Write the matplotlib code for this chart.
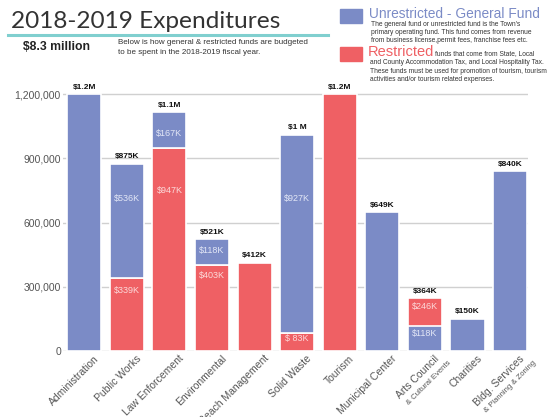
import matplotlib
matplotlib.use("Agg")
import matplotlib.pyplot as plt
import matplotlib.transforms as mtransforms
from matplotlib.lines import Line2D
from matplotlib.patches import Rectangle

# === DATA ===
categories = ["Administration", "Public Works", "Law Enforcement", "Environmental",
              "Beach Management", "Solid Waste", "Tourism", "Municipal Center",
              "Arts Council", "Charities", "Bldg. Services"]
sub_labels = {"Arts Council": "& Cultural Events", "Bldg. Services": "& Planning & Zoning"}
unrestricted = [1200000, 536000, 167000, 118000, 0, 927000, 0, 649000, 118000, 150000, 840000]
restricted = [0, 339000, 947000, 403000, 412000, 83000, 1200000, 0, 246000, 0, 0]
total_labels = ["$1.2M", "$875K", "$1.1M", "$521K", "$412K", "$1 M", "$1.2M",
                "$649K", "$364K", "$150K", "$840K"]
unrestricted_labels = [None, "$536K", "$167K", "$118K", None, "$927K", None, None, "$118K", None, None]
restricted_labels = [None, "$339K", "$947K", "$403K", None, "$ 83K", None, None, "$246K", None, None]
y_ticks = [0, 300000, 600000, 900000, 1200000]

# === LAYOUT / STYLE ===
W, H = 557, 417
BLUE = "#7b8bc6"
RED = "#ef6064"
TEAL = "#80cfcf"
GREY = "#555555"
FONT = "Liberation Sans"
blue_on_red = [True, True, True, True, True, True, True, True, False, True, True]  # arts: overlaid
drop_u = [None, 35, 21, 11, None, 64, None, None, 8, None, None]  # px below segment top
drop_r = [None, 12, 42, 11, None, 5, None, None, 8.5, None, None]


def fx(x):
    return x / W


def fy(y):
    return 1 - y / H


fig = plt.figure(figsize=(W / 100, H / 100), dpi=100)
fig.patch.set_facecolor("white")

# axes: 0 at y=351px, 1.2M at y=94px
px_per_unit = 257 / 1.2e6
ymax = 1.25e6
ax_top = 351 - ymax * px_per_unit
ax = fig.add_axes([fx(63), fy(351), fx(528) - fx(63), (351 - ax_top) / H])
ax.set_xlim(-0.5, 10.42)
ax.set_ylim(0, ymax)

x = list(range(len(categories)))
bw = 0.8
r_idx = [i for i in x if restricted[i] > 0]
ax.bar(r_idx, [restricted[i] for i in r_idx], width=bw, color=RED,
       edgecolor="white", linewidth=1.2, zorder=2)
u_idx = [i for i in x if unrestricted[i] > 0]
u_bottom = [restricted[i] if blue_on_red[i] else 0 for i in u_idx]
ax.bar(u_idx, [unrestricted[i] for i in u_idx], bottom=u_bottom, width=bw, color=BLUE,
       edgecolor="white", linewidth=1.2, zorder=3)

for i in x:
    u_bot = restricted[i] if blue_on_red[i] else 0
    u_top = u_bot + unrestricted[i]
    top = max(u_top, restricted[i])
    ax.annotate(total_labels[i], xy=(i, top), xytext=(0, 2.5), textcoords="offset points",
                ha="center", va="bottom", fontsize=6, fontweight="bold", color="#111111",
                family=FONT, zorder=5)
    if unrestricted_labels[i]:
        ax.annotate(unrestricted_labels[i], xy=(i, u_top), xytext=(0, -drop_u[i] * 0.72),
                    textcoords="offset points", ha="center", va="center", fontsize=6.5,
                    color="#e3e7f6", family=FONT, zorder=5)
    if restricted_labels[i]:
        ax.annotate(restricted_labels[i], xy=(i, restricted[i]), xytext=(0, -drop_r[i] * 0.72),
                    textcoords="offset points", ha="center", va="center", fontsize=6.5,
                    color="#fcdada", family=FONT, zorder=5)

# axes styling
for s in ax.spines.values():
    s.set_visible(False)
ax.set_yticks(y_ticks)
ax.set_yticklabels([f"{v:,}" for v in y_ticks], fontsize=7.5, color=GREY, family=FONT)
ax.yaxis.grid(True, color="#d0d0d0", linewidth=1)
ax.set_axisbelow(True)
ax.tick_params(axis="y", length=0, pad=1.5)
ax.tick_params(axis="x", length=0, pad=0)

ax.set_xticks(x)
ax.set_xticklabels(categories, rotation=45, ha="right", va="center",
                   rotation_mode="anchor", fontsize=7.5, color=GREY, family=FONT)
shift = mtransforms.ScaledTranslation(13 / 100, -6 / 100, fig.dpi_scale_trans)
for lbl in ax.get_xticklabels():
    lbl.set_transform(lbl.get_transform() + shift)

sub_shift = mtransforms.ScaledTranslation(25 / 100, -11 / 100, fig.dpi_scale_trans)
for i, name in enumerate(categories):
    if name in sub_labels:
        ax.text(i, 0, sub_labels[name], transform=ax.get_xaxis_transform() + sub_shift,
                rotation=45, ha="right", va="center", rotation_mode="anchor",
                fontsize=5.5, color=GREY, family=FONT, clip_on=False)

# === HEADER ===
fig.text(fx(11), fy(21), "2018-2019 Expenditures", fontsize=17.6, family="Lato",
         color="#333333", va="center", ha="left")
fig.add_artist(Line2D([fx(8), fx(328)], [fy(35), fy(35)], color=TEAL, linewidth=2.2))
fig.text(fx(23), fy(47), "$8.3 million", fontsize=8.8, fontweight="bold", family=FONT,
         color="#222222", va="center", ha="left")
fig.text(fx(118), fy(43), "Below is how general & restricted funds are budgeted",
         fontsize=5.8, family=FONT, color="#333333", va="center", ha="left")
fig.text(fx(118), fy(53), "to be spent in the 2018-2019 fiscal year.",
         fontsize=5.8, family=FONT, color="#333333", va="center", ha="left")

# legend blocks
fig.add_artist(Rectangle((fx(340), fy(23)), 22 / W, 14 / H, transform=fig.transFigure,
                         color=BLUE))
fig.add_artist(Rectangle((fx(340), fy(61)), 22 / W, 14 / H, transform=fig.transFigure,
                         color=RED))
fig.text(fx(369), fy(14), "Unrestricted - General Fund", fontsize=9.9, family=FONT,
         color=BLUE, va="center", ha="left")
unres_lines = ["The general fund or unrestricted fund is the Town's",
               "primary operating fund. This fund comes from revenue",
               "from business license,permit fees, franchise fees etc."]
for k, line in enumerate(unres_lines):
    fig.text(fx(371), fy(24 + k * 8.5), line, fontsize=4.75, family=FONT,
             color="#333333", va="center", ha="left")
fig.text(fx(368), fy(52), "Restricted", fontsize=10.5, family=FONT,
         color=RED, va="center", ha="left")
fig.text(fx(435), fy(54), "funds that come from State, Local", fontsize=4.75, family=FONT,
         color="#333333", va="center", ha="left")
res_lines = ["and County Accommodation Tax, and Local Hospitality Tax.",
             "These funds must be used for promotion of tourism, tourism",
             "activities and/or tourism related expenses."]
for k, line in enumerate(res_lines):
    fig.text(fx(370), fy(63 + k * 8.2), line, fontsize=4.75, family=FONT,
             color="#333333", va="center", ha="left")

fig.savefig("out.png", dpi=100, facecolor="white")
